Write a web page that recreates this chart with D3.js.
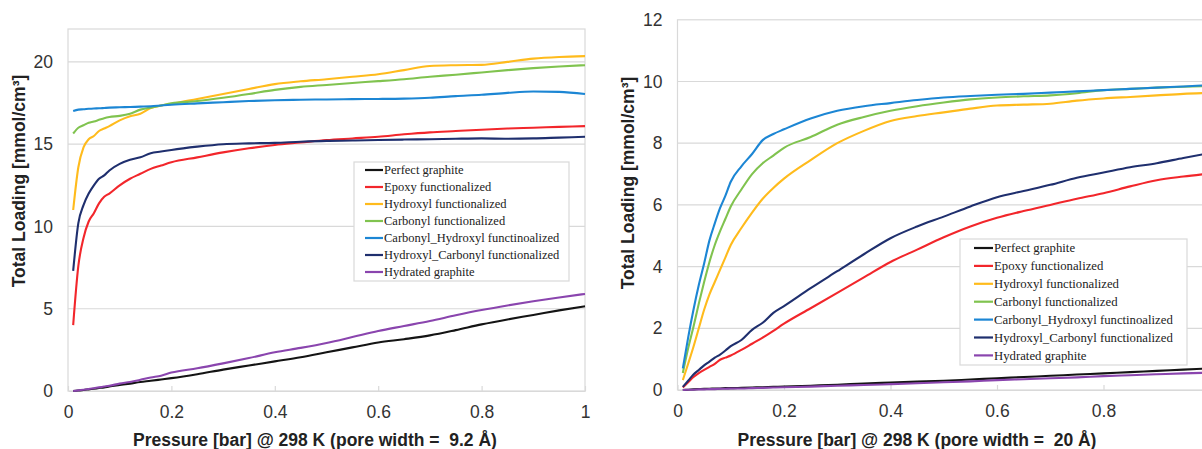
<!DOCTYPE html>
<html>
<head>
<meta charset="utf-8">
<script src="https://cdn.jsdelivr.net/npm/d3@7"></script>
<style>
  html, body { margin: 0; padding: 0; background: #fff; }
  svg { display: block; }
  .tick text { font-family: "Liberation Sans", Arial, sans-serif; fill: #333; }
  .title { font-family: "Liberation Sans", Arial, sans-serif; font-weight: bold; fill: #222; white-space: pre; }
  .legend text { font-family: "Liberation Serif", "Times New Roman", serif; fill: #222; }
</style>
</head>
<body>
<svg id="chart" width="1202" height="449"></svg>
<script>
// ---------------- DATA ----------------
const seriesNames = [
  "Perfect graphite",
  "Epoxy functionalized",
  "Hydroxyl functionalized",
  "Carbonyl functionalized",
  "Carbonyl_Hydroxyl functinoalized",
  "Hydroxyl_Carbonyl functionalized",
  "Hydrated graphite"
];
const seriesColors = ["#141414", "#f2262b", "#ffbb1c", "#80c34f", "#1c86d4", "#1f2f6e", "#8a45ae"];

const xTicksLeft = [0, 0.2, 0.4, 0.6, 0.8, 1];
const yTicksLeft = [0, 5, 10, 15, 20];
const xTicksRight = [0, 0.2, 0.4, 0.6, 0.8];
const yTicksRight = [0, 2, 4, 6, 8, 10, 12];

const xTitleLeft = "Pressure [bar] @ 298 K (pore width =  9.2 Å)";
const xTitleRight = "Pressure [bar] @ 298 K (pore width =  20 Å)";
const yTitle = "Total Loading [mmol/cm³]";

// Left panel (9.2 Å)
const pressureLeft = [0.01,0.02,0.03,0.04,0.05,0.06,0.07,0.08,0.1,0.12,0.14,0.16,0.18,0.2,0.25,0.3,0.35,0.4,0.45,0.5,0.55,0.6,0.65,0.7,0.75,0.8,0.85,0.9,0.95,1.0];
const perfectLeft   = [0.0,0.03,0.06,0.1,0.14,0.18,0.22,0.27,0.36,0.45,0.55,0.62,0.7,0.78,1.02,1.3,1.55,1.8,2.05,2.35,2.65,2.95,3.15,3.38,3.7,4.05,4.35,4.62,4.9,5.15];
const epoxyLeft     = [4.0,7.6,9.3,10.3,10.8,11.4,11.8,12.0,12.5,12.9,13.2,13.5,13.7,13.9,14.2,14.5,14.75,14.95,15.1,15.25,15.35,15.45,15.6,15.72,15.8,15.88,15.95,16.0,16.05,16.1];
const hydroxylLeft  = [11.0,13.6,14.8,15.3,15.5,15.8,15.95,16.1,16.45,16.7,16.85,17.2,17.35,17.45,17.75,18.05,18.35,18.65,18.82,18.95,19.1,19.25,19.5,19.75,19.8,19.82,20.0,20.2,20.3,20.35];
const carbonylLeft  = [15.65,16.0,16.15,16.3,16.38,16.48,16.58,16.65,16.72,16.85,17.1,17.22,17.35,17.48,17.62,17.82,18.05,18.3,18.48,18.6,18.72,18.83,18.95,19.1,19.22,19.36,19.5,19.62,19.72,19.8];
const carbHydLeft   = [17.02,17.1,17.12,17.15,17.17,17.18,17.2,17.22,17.24,17.26,17.28,17.3,17.35,17.4,17.48,17.55,17.62,17.67,17.7,17.72,17.74,17.75,17.77,17.82,17.92,18.0,18.12,18.2,18.18,18.05];
const hydCarbLeft   = [7.3,10.2,11.3,12.0,12.5,12.9,13.1,13.4,13.8,14.05,14.2,14.45,14.55,14.65,14.85,15.0,15.05,15.08,15.15,15.2,15.22,15.25,15.28,15.3,15.33,15.35,15.33,15.35,15.4,15.45];
const hydratedLeft  = [0.0,0.04,0.08,0.12,0.17,0.22,0.27,0.32,0.45,0.55,0.68,0.82,0.93,1.12,1.38,1.68,2.0,2.35,2.62,2.92,3.28,3.65,3.95,4.25,4.6,4.92,5.2,5.45,5.68,5.9];

// Right panel (20 Å)
const pressureRight = [0.01,0.02,0.03,0.04,0.05,0.06,0.07,0.08,0.09,0.1,0.12,0.14,0.16,0.18,0.2,0.25,0.3,0.35,0.4,0.45,0.5,0.55,0.6,0.65,0.7,0.75,0.8,0.85,0.9,0.95,1.0];
const perfectRight  = [0.0,0.01,0.02,0.03,0.04,0.04,0.05,0.05,0.06,0.06,0.07,0.08,0.09,0.1,0.11,0.14,0.17,0.21,0.24,0.27,0.3,0.34,0.38,0.42,0.46,0.5,0.54,0.58,0.62,0.66,0.7];
const epoxyRight    = [0.08,0.25,0.42,0.55,0.65,0.75,0.85,0.98,1.05,1.12,1.3,1.5,1.7,1.92,2.15,2.65,3.15,3.65,4.15,4.55,4.95,5.3,5.58,5.8,6.0,6.2,6.38,6.6,6.8,6.92,7.02];
const hydroxylRight = [0.32,0.85,1.4,2.0,2.6,3.1,3.5,3.9,4.3,4.7,5.25,5.75,6.2,6.55,6.85,7.45,8.0,8.4,8.72,8.88,9.0,9.12,9.22,9.25,9.28,9.38,9.45,9.5,9.55,9.6,9.63];
const carbonylRight = [0.55,1.35,2.05,2.8,3.5,4.15,4.7,5.15,5.55,5.95,6.5,7.0,7.35,7.6,7.85,8.2,8.6,8.85,9.05,9.2,9.32,9.42,9.48,9.52,9.55,9.62,9.72,9.76,9.8,9.83,9.85];
const carbHydRight  = [0.7,1.7,2.6,3.4,4.1,4.85,5.4,5.9,6.3,6.75,7.25,7.65,8.1,8.3,8.45,8.8,9.05,9.2,9.3,9.4,9.48,9.53,9.57,9.6,9.64,9.68,9.72,9.76,9.8,9.84,9.88];
const hydCarbRight  = [0.1,0.3,0.5,0.65,0.8,0.92,1.05,1.15,1.28,1.42,1.62,1.95,2.18,2.5,2.72,3.3,3.85,4.4,4.92,5.3,5.62,5.95,6.25,6.45,6.65,6.88,7.05,7.22,7.35,7.52,7.68];
const hydratedRight = [0.0,0.01,0.01,0.02,0.02,0.03,0.03,0.04,0.04,0.05,0.05,0.06,0.07,0.08,0.09,0.11,0.14,0.16,0.19,0.22,0.25,0.28,0.32,0.35,0.38,0.41,0.45,0.48,0.51,0.54,0.56];

const seriesLeft  = [perfectLeft, epoxyLeft, hydroxylLeft, carbonylLeft, carbHydLeft, hydCarbLeft, hydratedLeft];
const seriesRight = [perfectRight, epoxyRight, hydroxylRight, carbonylRight, carbHydRight, hydCarbRight, hydratedRight];

// ---------------- DRAW ----------------
const svg = d3.select("#chart");
svg.append("rect").attr("width", 1202).attr("height", 449).attr("fill", "#fff");

const gridColor = "#d9d9d9";
const tickFont = 17.5;

function panel(cfg) {
  const x = d3.scaleLinear().domain([0, 1]).range([cfg.x0, cfg.x1]);
  const y = d3.scaleLinear().domain([0, cfg.yMax]).range([cfg.yBottom, cfg.yTop]);
  const g = svg.append("g");

  // gridlines
  g.append("g").selectAll("line").data(cfg.yTicks.filter(v => v > 0 && v < cfg.yMax)).join("line")
    .attr("x1", cfg.x0).attr("x2", cfg.x1)
    .attr("y1", d => y(d)).attr("y2", d => y(d))
    .attr("stroke", gridColor).attr("stroke-width", 1.2);

  // plot border
  g.append("rect").attr("x", cfg.x0).attr("y", cfg.yTop)
    .attr("width", cfg.x1 - cfg.x0).attr("height", cfg.yBottom - cfg.yTop)
    .attr("fill", "none").attr("stroke", gridColor).attr("stroke-width", 1.2);

  // x axis
  const xa = g.append("g").attr("transform", `translate(0,${cfg.yBottom})`)
    .call(d3.axisBottom(x).tickValues(cfg.xTicks).tickFormat(d3.format("~g"))
      .tickSize(-5).tickSizeOuter(0).tickPadding(15));
  xa.select(".domain").attr("stroke", gridColor).attr("stroke-width", 1.2);
  xa.selectAll(".tick line").attr("stroke", gridColor).attr("stroke-width", 1.2);
  xa.selectAll(".tick text").attr("font-size", tickFont).attr("fill", "#333");

  // y axis
  const ya = g.append("g").attr("transform", `translate(${cfg.x0},0)`)
    .call(d3.axisLeft(y).tickValues(cfg.yTicks).tickSize(0).tickPadding(15));
  ya.select(".domain").remove();
  ya.selectAll(".tick text").attr("font-size", tickFont).attr("fill", "#333");

  // lines
  const line = d3.line().x(d => x(d[0])).y(d => y(d[1])).curve(d3.curveMonotoneX);
  cfg.series.forEach((vals, i) => {
    const pts = cfg.pressure.map((p, k) => [p, vals[k]]);
    g.append("path").datum(pts).attr("d", line)
      .attr("fill", "none").attr("stroke", seriesColors[i])
      .attr("stroke-width", 2.1).attr("stroke-linejoin", "round");
  });

  // titles
  g.append("text").attr("class", "title").attr("x", cfg.xTitleX).attr("y", 446)
    .attr("text-anchor", "middle").attr("font-size", 17.5).text(cfg.xTitle);
  g.append("text").attr("class", "title")
    .attr("transform", `translate(${cfg.yTitleX},${cfg.yTitleY}) rotate(-90)`)
    .attr("text-anchor", "middle").attr("font-size", 17.5).text(yTitle);

  // legend
  const L = cfg.legend;
  const lg = g.append("g").attr("class", "legend");
  lg.append("rect").attr("x", L.x).attr("y", L.y).attr("width", L.w).attr("height", L.h)
    .attr("fill", "#fff").attr("stroke", gridColor).attr("stroke-width", 1.2);
  seriesNames.forEach((name, i) => {
    const yy = L.firstY + i * L.step;
    lg.append("line").attr("x1", L.lineX0).attr("x2", L.lineX1).attr("y1", yy).attr("y2", yy)
      .attr("stroke", seriesColors[i]).attr("stroke-width", 2.2);
    lg.append("text").attr("x", L.lineX1 + 1).attr("y", yy).attr("dy", "0.34em")
      .attr("font-size", L.font).text(name);
  });
}

panel({
  x0: 68, x1: 585, yTop: 29, yBottom: 391, yMax: 22,
  xTicks: xTicksLeft, yTicks: yTicksLeft,
  pressure: pressureLeft, series: seriesLeft,
  xTitle: xTitleLeft, xTitleX: 315, yTitleX: 25, yTitleY: 181,
  legend: { x: 354, y: 162, w: 215, h: 119, firstY: 170, step: 17, lineX0: 365, lineX1: 383, font: 12.5 }
});

panel({
  x0: 677.5, x1: 1210, yTop: 19.8, yBottom: 390, yMax: 12,
  xTicks: xTicksRight, yTicks: yTicksRight,
  pressure: pressureRight, series: seriesRight,
  xTitle: xTitleRight, xTitleX: 917, yTitleX: 634, yTitleY: 183,
  legend: { x: 960, y: 239, w: 227, h: 126, firstY: 248, step: 17.9, lineX0: 974, lineX1: 993, font: 12.75 }
});
</script>
</body>
</html>
